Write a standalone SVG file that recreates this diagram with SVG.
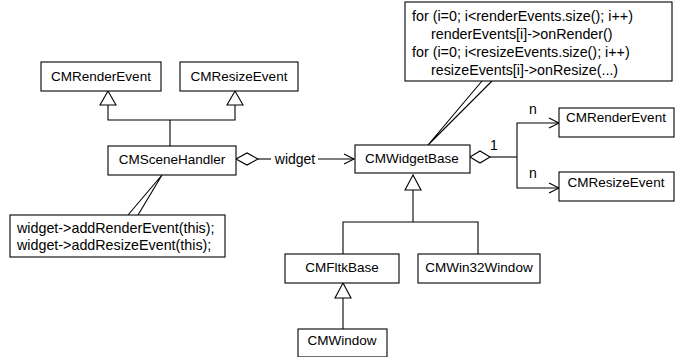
<svg xmlns="http://www.w3.org/2000/svg" width="677" height="357" viewBox="0 0 677 357">
<style>
.box{fill:#fff;stroke:#000;stroke-width:1.1}
.ln{fill:none;stroke:#000;stroke-width:1.1}
.tri{fill:#fff;stroke:#000;stroke-width:1.1}
text{font-family:"Liberation Sans",Arial,Helvetica,sans-serif;font-size:13.5px;fill:#000}
.c{text-anchor:middle}
.nt{font-size:14.3px}
</style>
<rect width="677" height="357" fill="#fff"/>
<g id="connectors">
<polyline class="ln" points="108,105 108,120 235,120 235,105"/>
<line class="ln" x1="170" y1="120" x2="170" y2="146"/>
<polygon class="tri" points="108,91 100,105 116,105"/>
<polygon class="tri" points="235,91 227,105 243,105"/>
<polygon class="tri" points="236,159 247,153 258,159 247,165"/>
<line class="ln" x1="258" y1="159" x2="271" y2="159"/>
<line class="ln" x1="318" y1="159" x2="354" y2="159"/>
<polyline class="ln" points="344,154 354,159 344,164"/>
<text x="295" y="163.5" class="c" style="font-size:14px">widget</text>
<polygon class="tri" points="470,157 480,151 490,157 480,163"/>
<polyline class="ln" points="490,157 517,157"/>
<polyline class="ln" points="559,123 517,123 517,188 559,188"/>
<polyline class="ln" points="549,118 559,123 549,128"/>
<polyline class="ln" points="549,183 559,188 549,193"/>
<text x="494" y="150" class="c" style="font-size:14px">1</text>
<text x="533" y="114" class="c" style="font-size:14px">n</text>
<text x="533" y="178" class="c" style="font-size:14px">n</text>
<polygon class="tri" points="413,175 405,190 421,190"/>
<line class="ln" x1="413" y1="190" x2="413" y2="222"/>
<polyline class="ln" points="343,254 343,222 478,222 478,254"/>
<polygon class="tri" points="343,283 335,298 351,298"/>
<line class="ln" x1="343" y1="298" x2="343" y2="329"/>
<polyline class="ln" points="128,215 162,175 138,215"/>
<polyline class="ln" points="482,81 428,145 492,81"/>
</g>
<g id="n_renderevent1"><rect class="box" x="41" y="62" width="120" height="29"/><text x="101" y="81" class="c">CMRenderEvent</text></g>
<g id="n_resizeevent1"><rect class="box" x="180" y="62" width="118" height="29"/><text x="239" y="81" class="c">CMResizeEvent</text></g>
<g id="n_scenehandler"><rect class="box" x="108" y="146" width="128" height="29"/><text x="172" y="164" class="c">CMSceneHandler</text></g>
<g id="n_widgetbase"><rect class="box" x="355" y="145" width="115" height="28"/><text x="412" y="163" class="c">CMWidgetBase</text></g>
<g id="n_renderevent2"><rect class="box" x="559" y="108" width="115" height="29"/><text x="616" y="122" class="c">CMRenderEvent</text></g>
<g id="n_resizeevent2"><rect class="box" x="559" y="172" width="115" height="29"/><text x="616" y="187" class="c">CMResizeEvent</text></g>
<g id="n_fltkbase"><rect class="box" x="285" y="254" width="114" height="29"/><text x="342" y="272" class="c">CMFltkBase</text></g>
<g id="n_win32window"><rect class="box" x="418" y="254" width="122" height="29"/><text x="479" y="272" class="c">CMWin32Window</text></g>
<g id="n_window"><rect class="box" x="298" y="329" width="89" height="28"/><text x="342" y="345" class="c">CMWindow</text></g>
<g id="n_note1"><rect class="box" x="10" y="215" width="215" height="42"/>
<text x="17" y="233" class="nt">widget-&gt;addRenderEvent(this);</text>
<text x="17" y="250" class="nt">widget-&gt;addResizeEvent(this);</text></g>
<g id="n_note2"><rect class="box" x="405" y="2" width="267" height="79"/>
<text x="412" y="21" class="nt">for (i=0; i&lt;renderEvents.size(); i++)</text>
<text x="431" y="39" class="nt">renderEvents[i]-&gt;onRender()</text>
<text x="412" y="57" class="nt">for (i=0; i&lt;resizeEvents.size(); i++)</text>
<text x="431" y="75" class="nt">resizeEvents[i]-&gt;onResize(...)</text></g>
</svg>
